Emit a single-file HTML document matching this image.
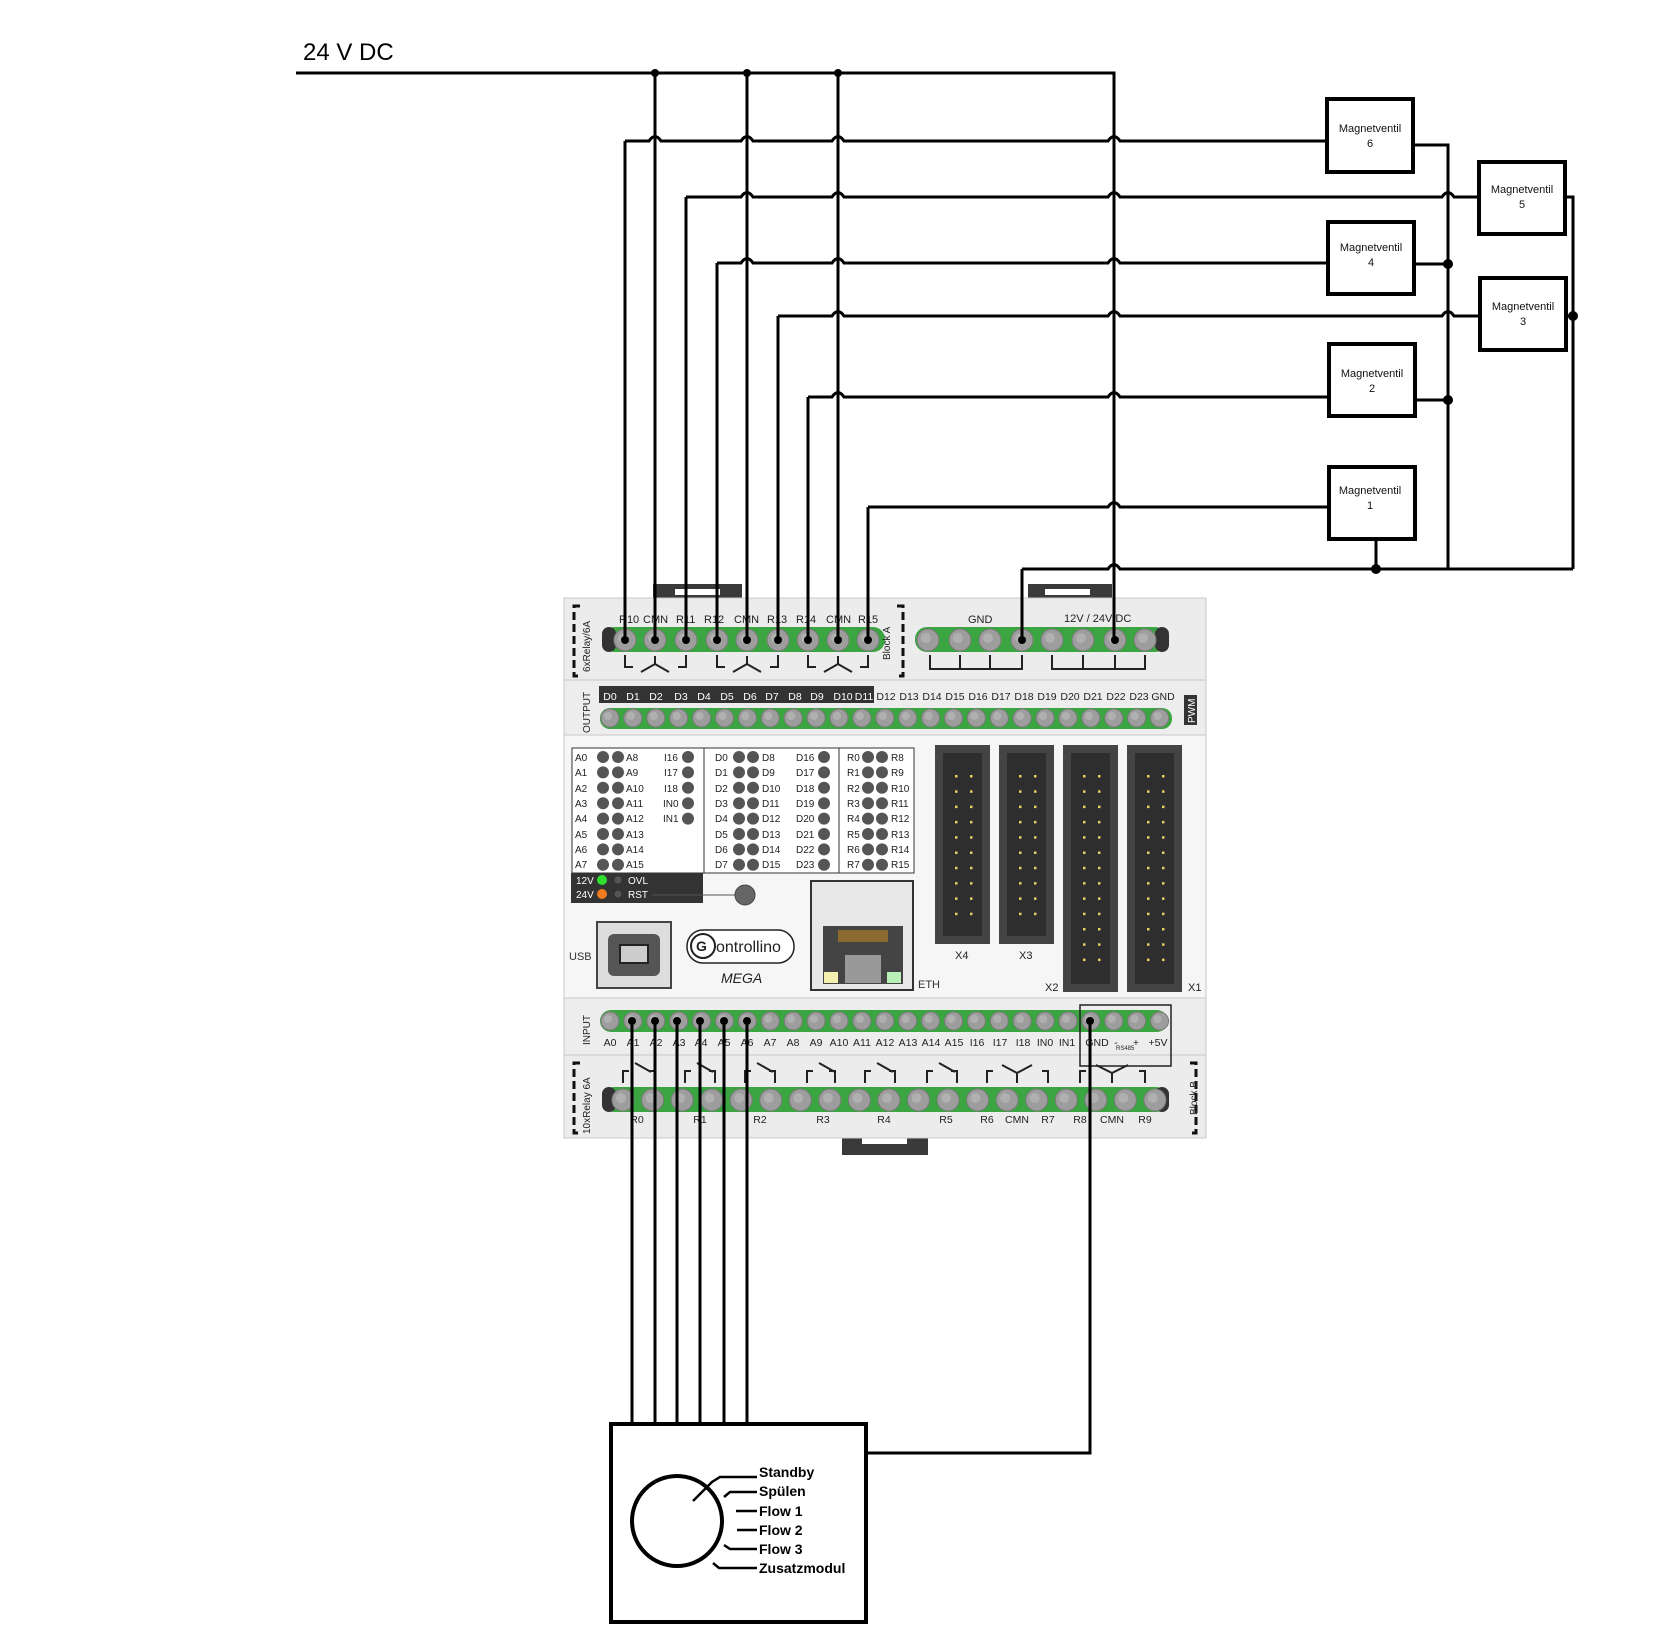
<!DOCTYPE html>
<html><head><meta charset="utf-8"><style>
html,body{margin:0;padding:0;background:#fff;}
svg{display:block;}
text{font-family:"Liberation Sans",sans-serif;}
</style></head><body>
<svg id="s" width="1676" height="1634" viewBox="0 0 1676 1634" xmlns="http://www.w3.org/2000/svg">
<g id="dev">
<rect x="653" y="584" width="89" height="16" fill="#3a3a3a"/><rect x="675" y="589" width="45" height="6" fill="#fff"/>
<rect x="1028" y="584" width="84" height="16" fill="#3a3a3a"/><rect x="1045" y="589" width="45" height="6" fill="#fff"/>
<rect x="842" y="1136" width="86" height="19" fill="#3a3a3a"/><rect x="862" y="1138" width="45" height="6" fill="#fff"/>
<rect x="564" y="598" width="642" height="82" fill="#ececec" stroke="#c8c8c8"/>
<rect x="564" y="680" width="642" height="55" fill="#ededed" stroke="#c8c8c8"/>
<rect x="564" y="735" width="642" height="263" fill="#f6f6f6" stroke="#c8c8c8"/>
<rect x="564" y="998" width="642" height="57" fill="#ededed" stroke="#c8c8c8"/>
<rect x="564" y="1055" width="642" height="83" fill="#ececec" stroke="#c8c8c8"/>
<rect x="602" y="627" width="283" height="25" rx="12" fill="#3aa541"/>
<rect x="602" y="627" width="14" height="25" rx="7" fill="#333"/>
<rect x="915" y="627" width="252" height="25" rx="12" fill="#3aa541"/>
<rect x="1155" y="627" width="14" height="25" rx="7" fill="#333"/>
<g id="topc"></g>
<g stroke="#222" stroke-width="2" fill="none">
<path d="M625 655v12h8M686 655v12h-8M641 672l14-8 14 8M655 664v-8"/>
<path d="M717 655v12h8M778 655v12h-8M733 672l14-8 14 8M747 664v-8"/>
<path d="M808 655v12h8M868 655v12h-8M824 672l14-8 14 8M838 664v-8"/>
<path d="M930 655v14h92v-14M960 655v14M990 655v14"/>
<path d="M1052 655v14h93v-14M1083 655v14M1115 655v14"/>
</g>
<g stroke="#111" stroke-width="3" fill="none" stroke-dasharray="8,4"><path d="M580 606h-6v70h6"/><path d="M897 606h6v70h-6"/><path d="M1190 1063h6v70h-6"/><path d="M580 1063h-6v70h6"/></g>
<g font-size="11" fill="#222">
<text x="619" y="623">R10</text><text x="643" y="623">CMN</text><text x="676" y="623">R11</text><text x="704" y="623">R12</text><text x="734" y="623">CMN</text><text x="767" y="623">R13</text><text x="796" y="623">R14</text><text x="826" y="623">CMN</text><text x="858" y="623">R15</text>
<text x="968" y="623">GND</text><text x="1064" y="622">12V / 24V DC</text>
</g>
<text transform="translate(590,672) rotate(-90)" font-size="10" fill="#222">6xRelay/6A</text>
<text transform="translate(890,660) rotate(-90)" font-size="10" fill="#222">Block A</text>
<text transform="translate(590,733) rotate(-90)" font-size="10" fill="#222">OUTPUT</text>
<text transform="translate(590,1045) rotate(-90)" font-size="10" fill="#222">INPUT</text>
<text transform="translate(590,1134) rotate(-90)" font-size="10" fill="#222">10xRelay 6A</text>
<text transform="translate(1197,1115) rotate(-90)" font-size="10" fill="#222">Block B</text>
<rect x="599" y="686" width="275" height="17" fill="#333"/>
<rect x="1184" y="695" width="13" height="30" fill="#333"/>
<text transform="translate(1195,723) rotate(-90)" font-size="10" fill="#fff">PWM</text>
<rect x="600" y="708" width="572" height="21" rx="10" fill="#3aa541"/>
<g font-size="10.5" fill="#fff" text-anchor="middle">
<text x="610" y="700">D0</text><text x="633" y="700">D1</text><text x="656" y="700">D2</text><text x="681" y="700">D3</text><text x="704" y="700">D4</text><text x="727" y="700">D5</text><text x="750" y="700">D6</text><text x="772" y="700">D7</text><text x="795" y="700">D8</text><text x="817" y="700">D9</text><text x="843" y="700">D10</text><text x="864" y="700">D11</text></g>
<g font-size="10.5" fill="#222" text-anchor="middle">
<text x="886" y="700">D12</text><text x="909" y="700">D13</text><text x="932" y="700">D14</text><text x="955" y="700">D15</text><text x="978" y="700">D16</text><text x="1001" y="700">D17</text><text x="1024" y="700">D18</text><text x="1047" y="700">D19</text><text x="1070" y="700">D20</text><text x="1093" y="700">D21</text><text x="1116" y="700">D22</text><text x="1139" y="700">D23</text><text x="1163" y="700">GND</text></g>
<g id="outc"></g>
<rect x="572" y="748" width="342" height="125" fill="#fff" stroke="#333" stroke-width="1"/>
<path d="M704 748v125M839 748v125" stroke="#333"/>
<g id="tbl"></g>
<g font-size="10" fill="#222">
<text x="575" y="761">A0</text><text x="575" y="776">A1</text><text x="575" y="792">A2</text><text x="575" y="807">A3</text><text x="575" y="822">A4</text><text x="575" y="838">A5</text><text x="575" y="853">A6</text><text x="575" y="868">A7</text>
<text x="626" y="761">A8</text><text x="626" y="776">A9</text><text x="626" y="792">A10</text><text x="626" y="807">A11</text><text x="626" y="822">A12</text><text x="626" y="838">A13</text><text x="626" y="853">A14</text><text x="626" y="868">A15</text>
<text x="664" y="761">I16</text><text x="664" y="776">I17</text><text x="664" y="792">I18</text><text x="663" y="807">IN0</text><text x="663" y="822">IN1</text>
<text x="715" y="761">D0</text><text x="715" y="776">D1</text><text x="715" y="792">D2</text><text x="715" y="807">D3</text><text x="715" y="822">D4</text><text x="715" y="838">D5</text><text x="715" y="853">D6</text><text x="715" y="868">D7</text>
<text x="762" y="761">D8</text><text x="762" y="776">D9</text><text x="762" y="792">D10</text><text x="762" y="807">D11</text><text x="762" y="822">D12</text><text x="762" y="838">D13</text><text x="762" y="853">D14</text><text x="762" y="868">D15</text>
<text x="796" y="761">D16</text><text x="796" y="776">D17</text><text x="796" y="792">D18</text><text x="796" y="807">D19</text><text x="796" y="822">D20</text><text x="796" y="838">D21</text><text x="796" y="853">D22</text><text x="796" y="868">D23</text>
<text x="847" y="761">R0</text><text x="847" y="776">R1</text><text x="847" y="792">R2</text><text x="847" y="807">R3</text><text x="847" y="822">R4</text><text x="847" y="838">R5</text><text x="847" y="853">R6</text><text x="847" y="868">R7</text>
<text x="891" y="761">R8</text><text x="891" y="776">R9</text><text x="891" y="792">R10</text><text x="891" y="807">R11</text><text x="891" y="822">R12</text><text x="891" y="838">R13</text><text x="891" y="853">R14</text><text x="891" y="868">R15</text>
</g>
<rect x="571" y="873" width="132" height="30" fill="#333"/>
<circle cx="602" cy="880" r="5" fill="#2ee02e"/><circle cx="602" cy="894" r="5" fill="#f07a20"/>
<circle cx="618" cy="880" r="3.5" fill="#555"/><circle cx="618" cy="894" r="3.5" fill="#555"/>
<g font-size="10" fill="#fff"><text x="576" y="884">12V</text><text x="576" y="898">24V</text><text x="628" y="884">OVL</text><text x="628" y="898">RST</text></g>
<path d="M652 895h83" stroke="#555"/>
<circle cx="745" cy="895" r="10" fill="#666" stroke="#444"/>
<rect x="597" y="922" width="74" height="66" fill="#ddd" stroke="#444" stroke-width="2"/>
<rect x="608" y="934" width="52" height="42" rx="6" fill="#555"/>
<rect x="620" y="945" width="28" height="18" fill="#ccc" stroke="#222" stroke-width="2"/>
<text x="569" y="960" font-size="11" fill="#333">USB</text>
<rect x="687" y="930" width="107" height="33" rx="16" fill="#fff" stroke="#222" stroke-width="1.5"/>
<circle cx="703" cy="946" r="12" fill="none" stroke="#222" stroke-width="2"/>
<text x="696" y="951" font-size="14" font-weight="bold" fill="#222">G</text>
<text x="716" y="952" font-size="16" fill="#222">ontrollino</text>
<text x="721" y="983" font-size="14" font-style="italic" fill="#222">MEGA</text>
<rect x="811" y="881" width="102" height="109" fill="#e8e8e8" stroke="#333" stroke-width="2"/>
<rect x="823" y="926" width="80" height="58" fill="#444"/>
<rect x="838" y="930" width="50" height="12" fill="#8a6a30"/>
<rect x="845" y="955" width="36" height="28" fill="#999"/>
<rect x="824" y="972" width="14" height="11" fill="#f4f0b0"/><rect x="887" y="972" width="14" height="11" fill="#b8f0b8"/>
<text x="918" y="988" font-size="11" fill="#333">ETH</text>
<g id="hdr"></g>
<g font-size="11" fill="#222"><text x="955" y="959">X4</text><text x="1019" y="959">X3</text><text x="1045" y="991">X2</text><text x="1188" y="991">X1</text></g>
<rect x="600" y="1010" width="568" height="22" rx="11" fill="#3aa541"/>
<rect x="1080" y="1005" width="91" height="61" fill="none" stroke="#222" stroke-width="1.5"/>
<g id="inc"></g>
<g font-size="10.5" fill="#222" text-anchor="middle">
<text x="610" y="1046">A0</text><text x="633" y="1046">A1</text><text x="656" y="1046">A2</text><text x="679" y="1046">A3</text><text x="701" y="1046">A4</text><text x="724" y="1046">A5</text><text x="747" y="1046">A6</text><text x="770" y="1046">A7</text><text x="793" y="1046">A8</text><text x="816" y="1046">A9</text><text x="839" y="1046">A10</text><text x="862" y="1046">A11</text><text x="885" y="1046">A12</text><text x="908" y="1046">A13</text><text x="931" y="1046">A14</text><text x="954" y="1046">A15</text><text x="977" y="1046">I16</text><text x="1000" y="1046">I17</text><text x="1023" y="1046">I18</text><text x="1045" y="1046">IN0</text><text x="1067" y="1046">IN1</text><text x="1097" y="1046">GND</text><text x="1116" y="1046">-</text><text x="1136" y="1046">+</text><text x="1158" y="1046">+5V</text></g>
<text x="1116" y="1050" font-size="6" fill="#222">RS485</text>
<rect x="602" y="1087" width="566" height="25" rx="12" fill="#3aa541"/>
<rect x="602" y="1087" width="14" height="25" rx="7" fill="#333"/>
<rect x="1155" y="1087" width="14" height="25" rx="7" fill="#333"/>
<g id="botc"></g>
<g id="botr" stroke="#222" stroke-width="2" fill="none"></g>
<g font-size="10.5" fill="#222" text-anchor="middle">
<text x="637" y="1123">R0</text><text x="700" y="1123">R1</text><text x="760" y="1123">R2</text><text x="823" y="1123">R3</text><text x="884" y="1123">R4</text><text x="946" y="1123">R5</text><text x="987" y="1123">R6</text><text x="1017" y="1123">CMN</text><text x="1048" y="1123">R7</text><text x="1080" y="1123">R8</text><text x="1112" y="1123">CMN</text><text x="1145" y="1123">R9</text></g>
</g>

<g stroke="#000" stroke-width="3" fill="none" stroke-linejoin="miter">
<path d="M296 73H1114V640"/>
<path d="M655 73V640M747 73V640M838 73V640"/>
</g>
<g id="wires" stroke="#000" stroke-width="3" fill="none"></g>
<g fill="#000">
<circle cx="655" cy="73" r="4"/><circle cx="747" cy="73" r="4"/><circle cx="838" cy="73" r="4"/>
<circle cx="1448" cy="264" r="5"/><circle cx="1448" cy="400" r="5"/><circle cx="1573" cy="316" r="5"/><circle cx="1376" cy="569" r="5"/>
</g>
<text x="303" y="60" font-size="24" fill="#000">24 V DC</text>
<g stroke="#000" stroke-width="4" fill="#fff">
<rect x="1327" y="99" width="86" height="73"/>
<rect x="1479" y="162" width="86" height="72"/>
<rect x="1328" y="222" width="86" height="72"/>
<rect x="1480" y="278" width="86" height="72"/>
<rect x="1329" y="344" width="86" height="72"/>
<rect x="1329" y="467" width="86" height="72"/>
</g>
<g font-size="11" fill="#111" text-anchor="middle" font-family="Liberation Sans, sans-serif">
<text x="1370" y="132">Magnetventil</text><text x="1370" y="147">6</text>
<text x="1522" y="193">Magnetventil</text><text x="1522" y="208">5</text>
<text x="1371" y="251">Magnetventil</text><text x="1371" y="266">4</text>
<text x="1523" y="310">Magnetventil</text><text x="1523" y="325">3</text>
<text x="1372" y="377">Magnetventil</text><text x="1372" y="392">2</text>
<text x="1370" y="494">Magnetventil</text><text x="1370" y="509">1</text>
</g>
<rect x="611" y="1424" width="255" height="198" fill="none" stroke="#000" stroke-width="4"/>
<circle cx="677" cy="1521" r="45" fill="none" stroke="#000" stroke-width="4"/>
<g stroke="#000" stroke-width="2.5" fill="none">
<path d="M693 1501l19-19 8-5h37"/><path d="M724 1497l6-5h27"/><path d="M736 1511h21"/><path d="M737 1530h20"/><path d="M724 1545l6 4h27"/><path d="M713 1563l6 5h38"/>
</g>
<g font-size="14" font-weight="bold" fill="#000">
<text x="759" y="1477">Standby</text><text x="759" y="1496">Spülen</text><text x="759" y="1516">Flow 1</text><text x="759" y="1535">Flow 2</text><text x="759" y="1554">Flow 3</text><text x="759" y="1573">Zusatzmodul</text>
</g>
</svg>
<script>
var NS="http://www.w3.org/2000/svg";
function el(p,t,a){var e=document.createElementNS(NS,t);for(var k in a)e.setAttribute(k,a[k]);document.getElementById(p).appendChild(e);return e;}
function term(p,x,y,r){el(p,"circle",{cx:x,cy:y,r:r,fill:"#9d9d9d",stroke:"#7a7a7a","stroke-width":1});el(p,"circle",{cx:x-2,cy:y-2,r:r*0.45,fill:"#b0b0b0"});}
[625,655,686,717,747,778,808,838,868].forEach(function(x){term("topc",x,640,11)});
[928,960,990,1022,1052,1083,1115,1145].forEach(function(x){term("topc",x,640,11)});
for(var i=0;i<25;i++){term("outc",610+i*22.9,718,9);term("inc",610+i*22.9,1021,9);}
for(var i=0;i<19;i++){term("botc",623+i*29.55,1100,11);}
var rp=[[623,655],[685,715],[745,775],[807,835],[865,895],[927,957]];
rp.forEach(function(p){el("botr","path",{d:"M"+(p[0])+" 1083v-12h6M"+p[1]+" 1083v-12h-6M"+(p[0]+12)+" 1063l16 9"})});
el("botr","path",{d:"M987 1083v-12h6M1048 1083v-12h-6M1002 1065l15 8 15-8M1017 1073v10"});
el("botr","path",{d:"M1080 1083v-12h6M1145 1083v-12h-6M1096 1065l16 8 16-8M1112 1073v10"});
for(var r=0;r<8;r++){var y=757+r*15.4;
 [603,618,739,753,868,882].forEach(function(x){el("tbl","circle",{cx:x,cy:y,r:6,fill:"#555"})});
 el("tbl","circle",{cx:824,cy:y,r:6,fill:"#555"});
 if(r<5)el("tbl","circle",{cx:688,cy:y,r:6,fill:"#555"});}
[[935,745,944],[999,745,944],[1063,745,992],[1127,745,992]].forEach(function(h){
 var x=h[0],w=55;el("hdr","rect",{x:x,y:h[1],width:w,height:h[2]-h[1],fill:"#444"});
 el("hdr","rect",{x:x+8,y:h[1]+8,width:w-16,height:h[2]-h[1]-16,fill:"#2e2e2e"});
 var n=(h[2]-h[1]>210)?13:10;for(var k=0;k<n;k++){var yy=h[1]+30+k*15.3;
 el("hdr","rect",{x:x+20,y:yy,width:2.5,height:2.5,fill:"#e8d060"});el("hdr","rect",{x:x+35,y:yy,width:2.5,height:2.5,fill:"#e8d060"});}});
function hop(y,x0,x1,cr){var d="M"+x0+" "+y;cr.forEach(function(c){d+="H"+(c-6)+"Q"+c+" "+(y-9)+" "+(c+6)+" "+y;});d+="H"+x1;return d;}
var W=[[141,625,1327,[655,747,838,1114]],[197,686,1479,[747,838,1114,1448]],[263,717,1328,[747,838,1114]],[316,778,1480,[838,1114,1448]],[397,808,1329,[838,1114]],[507,868,1329,[1114]]];
W.forEach(function(w){el("wires","path",{d:hop(w[0],w[1],w[2],w[3])+"M"+w[1]+" "+w[0]+"V640"});});
el("wires","path",{d:hop(569,1022,1573,[1114])+"M1022 569V640"});
el("wires","path",{d:"M1413 145H1448V569M1565 197H1573V569M1414 264H1448M1566 316H1573M1415 400H1448M1376 539V569"});
[632,655,677,700,724,747].forEach(function(x){el("wires","path",{d:"M"+x+" 1021V1424"});});
el("wires","path",{d:"M1090 1021V1453H866"});
var dots=[625,655,686,717,747,778,808,838,868,1022,1115];
dots.forEach(function(x){el("wires","circle",{cx:x,cy:640,r:4,fill:"#000",stroke:"none"})});
[632,655,677,700,724,747,1090].forEach(function(x){el("wires","circle",{cx:x,cy:1021,r:4,fill:"#000",stroke:"none"})});
</script>
</body></html>
